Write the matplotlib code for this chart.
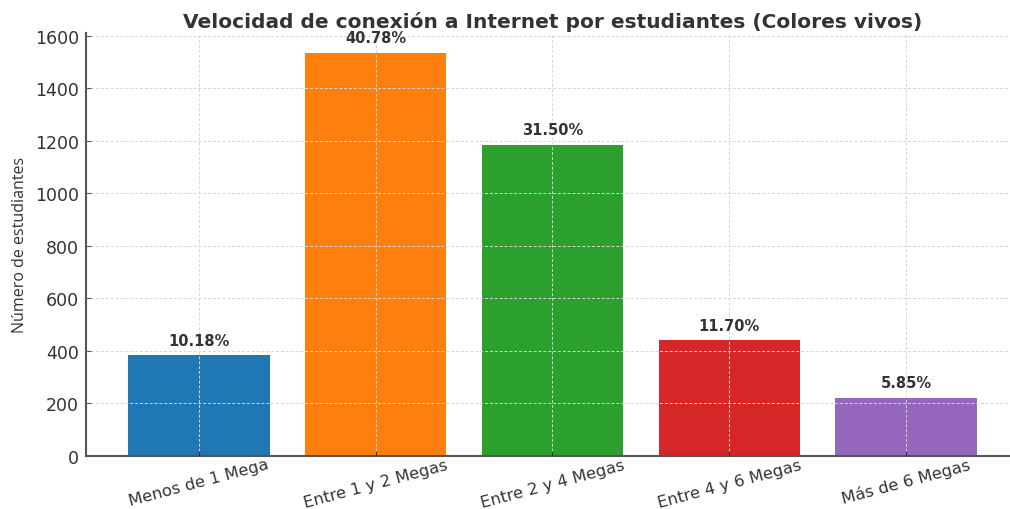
import matplotlib
matplotlib.use("Agg")
import matplotlib.pyplot as plt

categories = ["Menos de 1 Mega", "Entre 1 y 2 Megas", "Entre 2 y 4 Megas",
              "Entre 4 y 6 Megas", "Más de 6 Megas"]
counts = [383, 1535, 1186, 440, 220]
percent_labels = ["10.18%", "40.78%", "31.50%", "11.70%", "5.85%"]
colors = ["#1f77b4", "#ff7f0e", "#2ca02c", "#d62728", "#9467bd"]

fig = plt.figure(figsize=(10.1, 5.1), dpi=100)
ax = fig.add_axes([0.085, 0.104, 0.924, 0.830])

x = list(range(len(categories)))
bars = ax.bar(x, counts, color=colors, width=0.8)

for rect, lab in zip(bars, percent_labels):
    ax.text(rect.get_x() + rect.get_width() / 2, rect.get_height() + 30, lab,
            ha="center", va="bottom", fontsize=10.5, fontweight="bold", color="#333333")

ax.set_xlim(-0.64, 4.64)
ax.set_ylim(0, 1612)
ax.set_yticks(range(0, 1601, 200))
ax.set_xticks(x)
ax.set_xticklabels(categories, rotation=15, fontsize=11.8, color="#333333")
ax.tick_params(axis="y", labelsize=12.5, labelcolor="#333333", direction="in",
               color="#555555", length=3.5, pad=5)
ax.tick_params(axis="x", direction="in", color="#333333", length=3.5, pad=0.5)

ax.grid(True, linestyle=(0, (3, 2)), color="#d6d6d6", linewidth=0.7)
ax.set_axisbelow(False)

for s in ["top", "right"]:
    ax.spines[s].set_visible(False)
for s in ["left", "bottom"]:
    ax.spines[s].set_color("#555555")
    ax.spines[s].set_linewidth(1.5)

ax.set_ylabel("Número de estudiantes", fontsize=11.5, color="#333333",
              family=["Open Sans", "DejaVu Sans"], labelpad=5)
ax.set_title("Velocidad de conexión a Internet por estudiantes (Colores vivos)",
             fontsize=14.5, fontweight="bold", color="#333333", pad=4)

fig.savefig("out.png", dpi=100)
